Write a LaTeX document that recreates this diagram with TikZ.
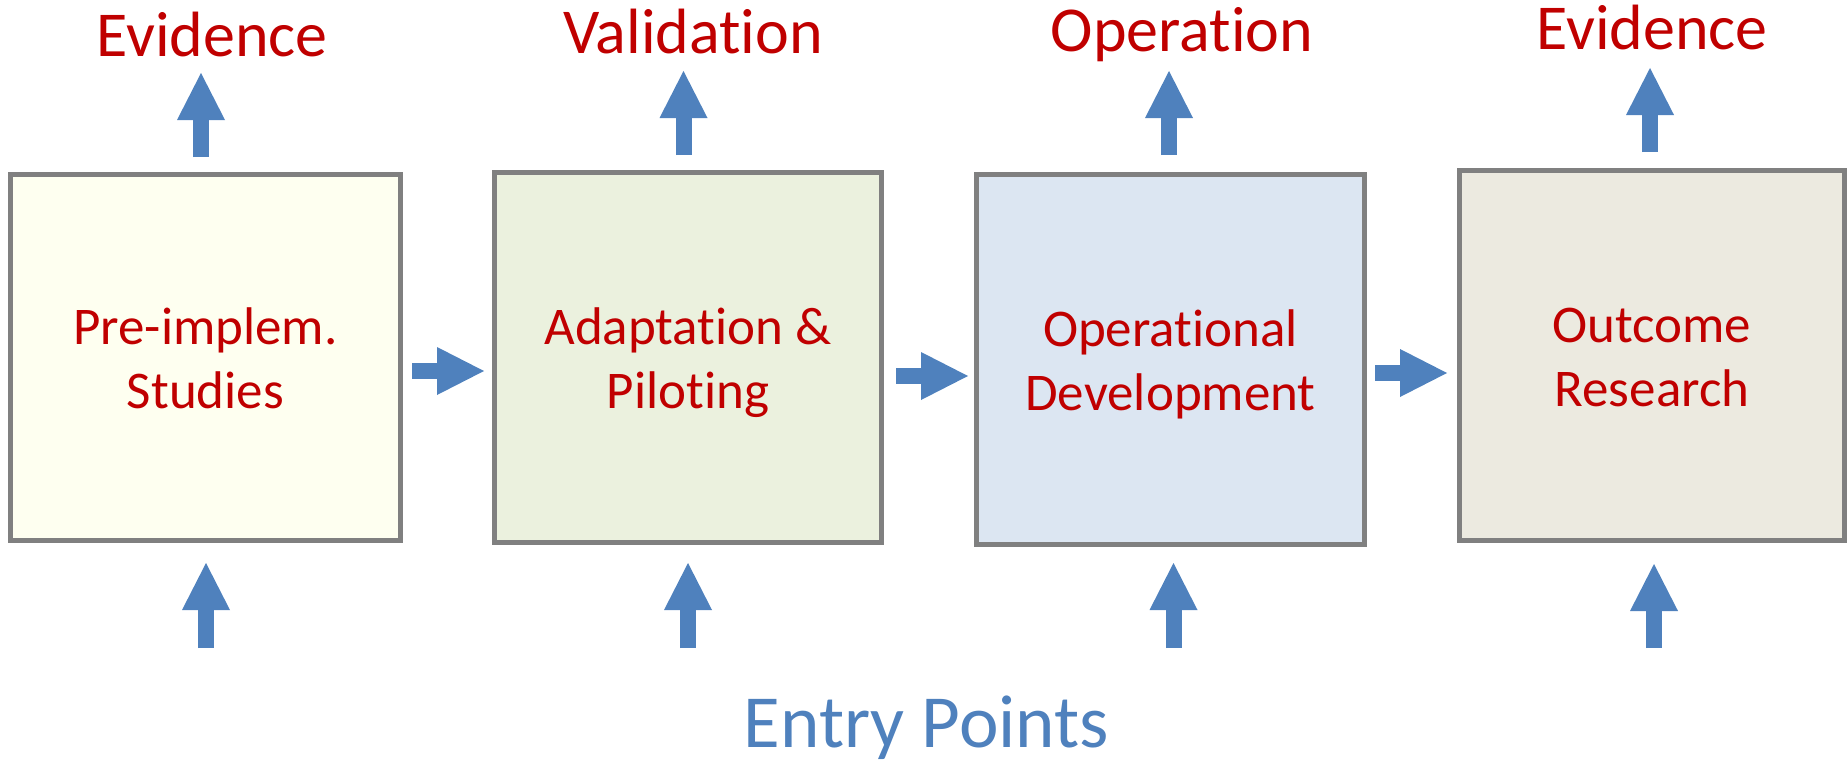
\documentclass[tikz,border=0pt]{standalone}
\usepackage{fontspec}
\setmainfont{Carlito}[Ligatures=NoCommon]
\usetikzlibrary{arrows.meta}
\definecolor{tred}{RGB}{192,0,0}
\definecolor{ablue}{RGB}{79,129,189}
\definecolor{bgray}{RGB}{128,128,128}
\definecolor{fillA}{RGB}{254,255,240}
\definecolor{fillB}{RGB}{235,241,222}
\definecolor{fillC}{RGB}{220,230,242}
\definecolor{fillD}{RGB}{236,234,224}
\begin{document}
\begin{tikzpicture}[x=1pt,y=-1pt,
  stagebox/.style={draw=bgray, line width=5pt, inner sep=0pt, outer sep=0pt},
  boxtext/.style={text=tred, font=\fontsize{53}{64}\selectfont, align=center, inner sep=0pt},
  toplabel/.style={text=tred, font=\fontsize{64}{77}\selectfont, anchor=base, inner sep=0pt},
  bottomlabel/.style={text=ablue, font=\fontsize{75}{90}\selectfont, anchor=base, inner sep=0pt},
  blockarrow/.style={draw=ablue, line width=16pt, -{Triangle[length=47pt, width=48pt, line width=0pt]}}]
\useasboundingbox (0,0) rectangle (1847,760);

% stage boxes
\node[stagebox, fill=fillA, minimum width=390pt, minimum height=366pt] (b1) at (205.5,357.5) {};
\node[stagebox, fill=fillB, minimum width=387pt, minimum height=370pt] (b2) at (688,357.5) {};
\node[stagebox, fill=fillC, minimum width=388pt, minimum height=370pt] (b3) at (1170.5,359.5) {};
\node[stagebox, fill=fillD, minimum width=385pt, minimum height=370pt] (b4) at (1652,355.5) {};

\node[boxtext] (t1) at (b1.center) {\rule{0pt}{50pt}Pre-implem.\\Studies\rule[-13pt]{0pt}{13pt}};
\node[boxtext] (t2) at (b2.center) {\rule{0pt}{50pt}Adaptation \&\\Piloting\rule[-13pt]{0pt}{13pt}};
\node[boxtext] (t3) at (b3.center) {\rule{0pt}{50pt}Operational\\Development\rule[-13pt]{0pt}{13pt}};
\node[boxtext] (t4) at (b4.center) {\rule{0pt}{50pt}Outcome\\Research\rule[-13pt]{0pt}{13pt}};

% top labels
\node[toplabel] (l1) at (212,57) {Evidence};
\node[toplabel] (l2) at (693,54) {Validation};
\node[toplabel] (l3) at (1182,52) {Operation};
\node[toplabel] (l4) at (1652,49) {Evidence};

% bottom label
\node[bottomlabel] (ep) at (926.5,747) {Entry Points};

% arrow end points
\coordinate (u1s) at (201,157);   \coordinate (u1e) at (201,73);
\coordinate (u2s) at (683.5,155); \coordinate (u2e) at (683.5,71);
\coordinate (u3s) at (1169,155);  \coordinate (u3e) at (1169,71);
\coordinate (u4s) at (1650,152);  \coordinate (u4e) at (1650,68);

\coordinate (d1s) at (206,648);    \coordinate (d1e) at (206,563);
\coordinate (d2s) at (688,648);    \coordinate (d2e) at (688,563);
\coordinate (d3s) at (1173.5,648); \coordinate (d3e) at (1173.5,563);
\coordinate (d4s) at (1654,648);   \coordinate (d4e) at (1654,564);

\coordinate (r1s) at (412,371);  \coordinate (r1e) at (484,371);
\coordinate (r2s) at (896,376);  \coordinate (r2e) at (968,376);
\coordinate (r3s) at (1375,373); \coordinate (r3e) at (1447,373);

\draw[blockarrow] (u1s) -- (u1e);
\draw[blockarrow] (u2s) -- (u2e);
\draw[blockarrow] (u3s) -- (u3e);
\draw[blockarrow] (u4s) -- (u4e);
\draw[blockarrow] (d1s) -- (d1e);
\draw[blockarrow] (d2s) -- (d2e);
\draw[blockarrow] (d3s) -- (d3e);
\draw[blockarrow] (d4s) -- (d4e);
\draw[blockarrow] (r1s) -- (r1e);
\draw[blockarrow] (r2s) -- (r2e);
\draw[blockarrow] (r3s) -- (r3e);
\end{tikzpicture}
\end{document}
